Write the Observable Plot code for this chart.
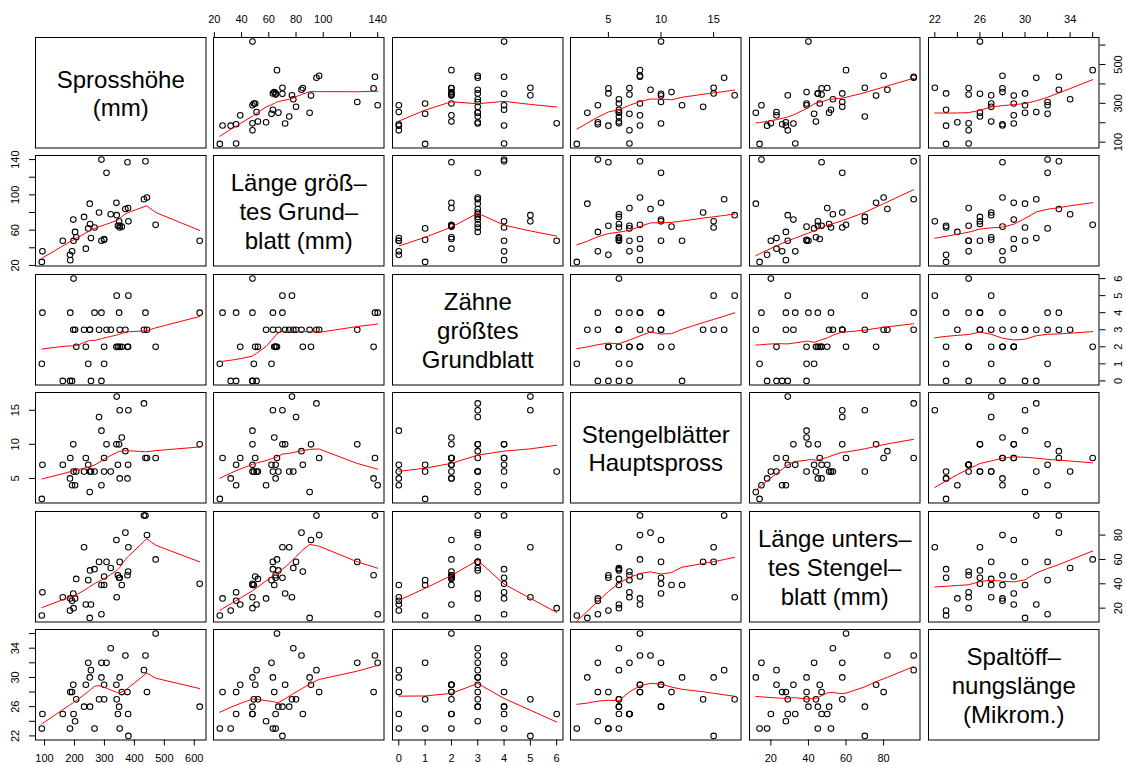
<!DOCTYPE html>
<html><head><meta charset="utf-8">
<script src="https://cdn.jsdelivr.net/npm/d3@7"></script>
<script src="https://cdn.jsdelivr.net/npm/@observablehq/plot@0.6"></script>
<style>
html,body{margin:0;padding:0;background:#fff;}
#chart{position:relative;width:1126px;height:765px;overflow:hidden;background:#fff;}
#chart svg{position:absolute;}
</style></head><body><div id="chart"></div>
<script>
// ---- data: one entry per plant (40 observations) ----
const sprosshoehe = [91, 93, 161, 185, 186, 192, 196, 197, 202, 206, 232, 238, 246, 251, 252, 255, 267, 282, 290, 290, 299, 299, 307, 321, 340, 341, 345, 349, 351, 351, 358, 370, 377, 379, 380, 432, 437, 442, 471, 618];
const laengeGrundblatt = [24, 36, 48, 32, 26, 36, 72, 48, 58, 52, 75, 39, 62, 90, 67, 51, 63, 80, 48, 140, 50, 49, 125, 78, 91, 77, 65, 70, 63, 65, 64, 84, 137, 85, 70, 95, 138, 97, 66, 48];
const zaehne = [1, 4, 0, 0, 4, 0, 3, 6, 3, 2, 3, 2, 1, 3, 3, 0, 4, 3, 0, 4, 2, 1, 3, 3, 2, 5, 2, 4, 3, 2, 2, 3, 2, 2, 5, 3, 4, 3, 2, 4];
const stengelblaetter = [2, 7, 7, 5, 8, 4, 10, 6, 4, 6, 6, 8, 7, 3, 6, 6, 6, 14, 12, 4, 8, 6, 10, 6, 10, 17, 7, 10, 15, 5, 11, 9, 5, 7, 15, 16, 8, 8, 8, 10];
const laengeStengelblatt = [14, 33, 29, 18, 28, 26, 32, 20, 28, 44, 70, 23, 43, 12, 51, 23, 52, 58, 39, 15, 46, 39, 58, 53, 76, 29, 47, 45, 58, 45, 39, 82, 47, 50, 70, 96, 96, 80, 60, 40];
const spaltoeffnung = [23, 25, 25, 23, 28, 28, 29, 25, 24, 27, 26, 29, 32, 30, 26, 31, 23, 27, 30, 32, 29, 27, 32, 34, 29, 27, 25, 26, 30, 23, 28, 33, 28, 25, 22, 31, 33, 28, 36, 26];

// ---- diagonal labels ----
const variableLabels = [
  "Sprosshöhe\n(mm)",
  "Länge größ–\ntes Grund–\nblatt (mm)",
  "Zähne\ngrößtes\nGrundblatt",
  "Stengelblätter\nHauptspross",
  "Länge unters–\ntes Stengel–\nblatt (mm)",
  "Spaltöff–\nnungslänge\n(Mikrom.)"
];

// ---- axis ticks and labels ----
const ticksS = [100, 200, 300, 400, 500, 600];
const ticksL = [20, 40, 60, 80, 100, 120, 140];
const ticksZ = [0, 1, 2, 3, 4, 5, 6];
const ticksSt = [5, 10, 15];
const ticksU = [20, 40, 60, 80];
const ticksSp = [22, 24, 26, 28, 30, 32, 34, 36];
const labelsS_bottom = [100, 200, 300, 400, 500, 600];
const labelsS_right = [100, 300, 500];
const labelsL_top = [20, 40, 60, 80, 100, 140];
const labelsL_left = [20, 60, 100, 140];
const labelsZ = [0, 1, 2, 3, 4, 5, 6];
const labelsSt = [5, 10, 15];
const labelsU = [20, 40, 60, 80];
const labelsSp = [22, 26, 30, 34];

const variables = [sprosshoehe, laengeGrundblatt, zaehne, stengelblaetter, laengeStengelblatt, spaltoeffnung];
const tickSets = [ticksS, ticksL, ticksZ, ticksSt, ticksU, ticksSp];
const xLabelSets = [labelsS_bottom, labelsL_top, labelsZ, labelsSt, labelsU, labelsSp];
const yLabelSets = [labelsS_right, labelsL_left, labelsZ, labelsSt, labelsU, labelsSp];

// R's lowess (clowess), used by panel.smooth
function lowess(xIn, yIn, f = 2/3, iter = 3) {
  const n = xIn.length;
  const idx = d3.range(n).sort((a, b) => (xIn[a] - xIn[b]) || (a - b));
  const x = idx.map(i => xIn[i]), y = idx.map(i => yIn[i]);
  const delta = 0.01 * (x[n-1] - x[0]);
  const ys = new Array(n).fill(0), rw = new Array(n).fill(1), res = new Array(n).fill(0), w = new Array(n).fill(0);
  const ns = Math.max(2, Math.min(n, Math.floor(f * n + 1e-7)));
  const range = x[n-1] - x[0];
  function lowest(xs, nleft, nright, userw) {
    const h = Math.max(xs - x[nleft], x[nright] - xs);
    const h9 = 0.999 * h, h1 = 0.001 * h;
    let a = 0, j = nleft;
    while (j < n) {
      w[j] = 0;
      const r = Math.abs(x[j] - xs);
      if (r <= h9) {
        w[j] = r <= h1 ? 1 : Math.pow(1 - Math.pow(r / h, 3), 3);
        if (userw) w[j] *= rw[j];
        a += w[j];
      } else if (x[j] > xs) break;
      j++;
    }
    const nrt = j - 1;
    if (a <= 0) return null;
    for (j = nleft; j <= nrt; j++) w[j] /= a;
    if (h > 0) {
      a = 0;
      for (j = nleft; j <= nrt; j++) a += w[j] * x[j];
      let b = xs - a, c = 0;
      for (j = nleft; j <= nrt; j++) c += w[j] * (x[j] - a) * (x[j] - a);
      if (Math.sqrt(c) > 0.001 * range) {
        b /= c;
        for (j = nleft; j <= nrt; j++) w[j] *= (b * (x[j] - a) + 1);
      }
    }
    let s = 0;
    for (j = nleft; j <= nrt; j++) s += w[j] * y[j];
    return s;
  }
  for (let it = 1; it <= iter + 1; it++) {
    let nleft = 0, nright = ns - 1, last = -1, i = 0;
    for (;;) {
      if (nright < n - 1) {
        const d1 = x[i] - x[nleft], d2 = x[nright + 1] - x[i];
        if (d1 > d2) { nleft++; nright++; continue; }
      }
      const v = lowest(x[i], nleft, nright, it > 1);
      ys[i] = v === null ? y[i] : v;
      if (last < i - 1) {
        const denom = x[i] - x[last];
        for (let j = last + 1; j < i; j++) {
          const alpha = (x[j] - x[last]) / denom;
          ys[j] = alpha * ys[i] + (1 - alpha) * ys[last];
        }
      }
      last = i;
      const cut = x[last] + delta;
      for (i = last + 1; i < n; i++) {
        if (x[i] > cut) break;
        if (x[i] === x[last]) { ys[i] = ys[last]; last = i; }
      }
      i = Math.max(last + 1, i - 1);
      if (last >= n - 1) break;
    }
    for (let k = 0; k < n; k++) res[k] = y[k] - ys[k];
    const sc = d3.sum(res, Math.abs) / n;
    if (it > iter) break;
    const ar = res.map(Math.abs);
    const sorted = ar.slice().sort((a, b) => a - b);
    const m1 = Math.floor(n / 2);
    const cmad = n % 2 === 0 ? 3 * (sorted[m1 - 1] + sorted[m1]) : 6 * sorted[m1];
    if (cmad < 1e-7 * sc) break;
    const c9 = 0.999 * cmad, c1 = 0.001 * cmad;
    for (let k = 0; k < n; k++) {
      const r = ar[k];
      rw[k] = r <= c1 ? 1 : r <= c9 ? Math.pow(1 - (r / cmad) ** 2, 2) : 0;
    }
  }
  return x.map((xv, k) => ({x: xv, y: ys[k]}));
}

const domains = variables.map(v => {
  const [a, b] = d3.extent(v); const r = b - a;
  return [a - 0.04 * r, b + 0.04 * r];
});

const M = 40;
const X0 = 34.5, SX = 178.6, W = 170.5;
const Y0 = 36.8, SY = 118.5, H = 110.5;
const font = "'Liberation Sans', Arial, Helvetica, sans-serif";
const chart = document.getElementById("chart");
const nVar = variables.length;

for (let i = 0; i < nVar; i++) {
  for (let j = 0; j < nVar; j++) {
    const marks = [];
    let hasX = false, hasY = false;
    if (i === j) {
      marks.push(Plot.text([variableLabels[i]], {frameAnchor: "middle", text: d => d, fontSize: 24, lineHeight: 1.2, fill: "black"}));
    } else {
      const pts = variables[j].map((xv, k) => ({x: xv, y: variables[i][k]}));
      marks.push(Plot.dot(pts, {x: "x", y: "y", r: 2.8, stroke: "black", strokeWidth: 1.05, fill: "none"}));
      marks.push(Plot.line(lowess(variables[j], variables[i]), {x: "x", y: "y", stroke: "red", strokeWidth: 1}));
    }
    // outer axes, alternating as in R's pairs()
    if (i === 0 && j % 2 === 1) {
      hasX = true;
      const lab = xLabelSets[j];
      marks.push(Plot.axisX(tickSets[j], {anchor: "top", tickSize: 6, tickPadding: 9, label: null, fontSize: 11, tickFormat: d => lab.includes(d) ? String(d) : ""}));
    }
    if (i === nVar - 1 && j % 2 === 0) {
      hasX = true;
      const lab = xLabelSets[j];
      marks.push(Plot.axisX(tickSets[j], {anchor: "bottom", tickSize: 6, tickPadding: 8, label: null, fontSize: 11, tickFormat: d => lab.includes(d) ? String(d) : ""}));
    }
    if (j === 0 && i % 2 === 1) {
      hasY = true;
      marks.push(Plot.axisY(tickSets[i], {anchor: "left", tickSize: 6, label: null, tickFormat: () => ""}));
      marks.push(Plot.text(yLabelSets[i], {y: d => d, text: d => String(d), frameAnchor: "left", dx: -20, rotate: -90, textAnchor: "middle", lineAnchor: "middle", fontSize: 11, fill: "black"}));
    }
    if (j === nVar - 1 && i % 2 === 0) {
      hasY = true;
      marks.push(Plot.axisY(tickSets[i], {anchor: "right", tickSize: 6, label: null, tickFormat: () => ""}));
      marks.push(Plot.text(yLabelSets[i], {y: d => d, text: d => String(d), frameAnchor: "right", dx: 19.5, rotate: -90, textAnchor: "middle", lineAnchor: "middle", fontSize: 11, fill: "black"}));
    }
    marks.push(Plot.frame({stroke: "black", strokeWidth: 1}));
    const opts = {
      width: W + 2 * M, height: H + 2 * M,
      marginLeft: M, marginRight: M, marginTop: M, marginBottom: M,
      style: {background: "transparent", overflow: "visible", fontFamily: font, fontSize: "11px", color: "black"},
      marks
    };
    if (i !== j || hasX || hasY) {
      opts.x = {domain: domains[j], label: null, axis: hasX ? undefined : null};
      opts.y = {domain: domains[i], label: null, axis: hasY ? undefined : null};
    }
    const svg = Plot.plot(opts);
    svg.style.left = (X0 + j * SX - M) + "px";
    svg.style.top = (Y0 + i * SY - M) + "px";
    chart.appendChild(svg);
  }
}
</script>
</body></html>
